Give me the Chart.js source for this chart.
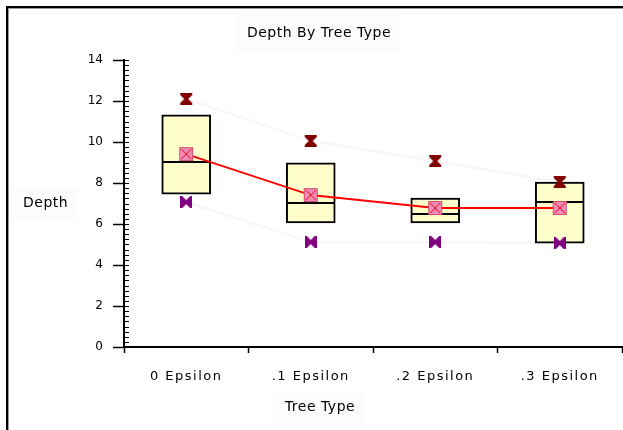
<!DOCTYPE html>
<html>
<head>
<meta charset="utf-8">
<script src="https://cdn.jsdelivr.net/npm/chart.js@4"></script>
<style>
  body { margin: 0; background: #fff; overflow: hidden; }
  #wrap { position: relative; width: 623px; height: 430px; }
  #frame { position: absolute; left: 6px; top: 6px; right: -10px; bottom: -10px;
           border-top: 2px solid #000; border-left: 2px solid #000;
           box-shadow: inset 1px 1px 0 #999; pointer-events: none; }
</style>
</head>
<body>
<div id="wrap">
  <canvas id="box-chart" width="623" height="430"></canvas>
  <div id="frame"></div>
</div>
<script>
const categories = ['0 Epsilon', '.1 Epsilon', '.2 Epsilon', '.3 Epsilon'];
const q1 = [7.46, 6.05, 6.05, 5.07];
const q3 = [11.32, 8.98, 7.27, 8.05];
const medians = [9.02, 7.02, 6.49, 7.07];
const means = [9.41, 7.41, 6.78, 6.78];
const maxValues = [12.1, 10.05, 9.07, 8.05];
const minValues = [7.07, 5.12, 5.12, 5.07];

const FONT = '"DejaVu Sans", sans-serif';

function makeMarker(w, h, draw){
    const c = document.createElement('canvas');
    c.width = w; c.height = h;
    draw(c.getContext('2d'));
    return c;
}

function polygon(ctx, pts){
    ctx.beginPath();
    pts.forEach((p, i) => i ? ctx.lineTo(p[0], p[1]) : ctx.moveTo(p[0], p[1]));
    ctx.closePath();
    ctx.fill();
}

// hourglass for max values
const maxMarker = makeMarker(14, 12, ctx => {
    ctx.fillStyle = '#800000';
    polygon(ctx, [[1,0],[13,0],[13,2],[9,6],[13,10],[13,12],[1,12],[1,10],[5,6],[1,2]]);
});

// bowtie for min values
const minMarker = makeMarker(12, 12, ctx => {
    ctx.fillStyle = '#800080';
    polygon(ctx, [[0,0],[2,0],[6,4],[10,0],[12,0],[12,12],[10,12],[6,8],[2,12],[0,12]]);
});

// pink square with red cross for the mean
const meanMarker = makeMarker(16, 16, ctx => {
    ctx.fillStyle = '#f08cbc';
    ctx.fillRect(1, 1, 14, 14);
    ctx.strokeStyle = 'rgba(200,60,80,0.8)';
    ctx.lineWidth = 1;
    ctx.strokeRect(1.5, 1.5, 13, 13);
    ctx.strokeStyle = '#ff0000';
    ctx.beginPath();
    ctx.moveTo(3, 3); ctx.lineTo(13, 13);
    ctx.moveTo(13, 3); ctx.lineTo(3, 13);
    ctx.stroke();
});

const textPlugin = {
    id: 'texts',
    beforeDraw(chart){
        const ctx = chart.ctx;
        ctx.save();
        ctx.fillStyle = '#fcfcfc';
        ctx.fillRect(237, 15, 163, 37);
        ctx.fillRect(15, 188, 63, 30);
        ctx.fillRect(272, 392, 94, 32);
        ctx.restore();
        // category labels are drawn wide in the reference
        ctx.letterSpacing = '1.5px';
    },
    afterDatasetsDraw(chart){
        chart.ctx.letterSpacing = '0px';
    },
    afterDraw(chart){
        const ctx = chart.ctx;
        const y = chart.scales.y;
        ctx.save();
        ctx.fillStyle = '#000';
        ctx.font = '14px ' + FONT;
        ctx.letterSpacing = '0.5px';
        ctx.textBaseline = 'middle';
        ctx.textAlign = 'center';
        ctx.fillText('Depth By Tree Type', 319, 33);
        ctx.fillText('Tree Type', 320, 407);
        ctx.textAlign = 'left';
        ctx.fillText('Depth', 23, 203);
        // minor ticks on the inner side of the value axis
        ctx.strokeStyle = '#000';
        ctx.lineWidth = 1.2;
        ctx.beginPath();
        for (let v = 0; v <= 14; v += 0.25) {
            const py = Math.round(y.getPixelForValue(v)) + 0.5;
            ctx.moveTo(y.right, py);
            ctx.lineTo(y.right + 5, py);
        }
        ctx.stroke();
        ctx.restore();
    }
};

new Chart(document.querySelector('#box-chart').getContext('2d'), {
    type: 'bar',
    data: {
        labels: categories,
        datasets: [
            {
                type: 'bar',
                data: q1.map((v, i) => [v, q3[i]]),
                backgroundColor: '#ffffcc',
                borderColor: '#000',
                borderWidth: 2,
                borderSkipped: false,
                barThickness: 49,
                order: 10
            },
            {
                type: 'line',
                data: maxValues,
                borderColor: 'rgba(0,0,0,0.03)',
                borderWidth: 3,
                pointRadius: 0,
                order: 11
            },
            {
                type: 'line',
                data: minValues,
                borderColor: 'rgba(0,0,0,0.03)',
                borderWidth: 3,
                pointRadius: 0,
                order: 11
            },
            {
                type: 'line',
                data: medians,
                showLine: false,
                pointStyle: 'line',
                pointRadius: 24,
                pointBorderWidth: 2,
                pointBorderColor: '#000',
                order: 5
            },
            {
                type: 'line',
                data: means,
                borderColor: '#ff0000',
                borderWidth: 2,
                pointRadius: 0,
                order: 4
            },
            {
                type: 'line',
                data: means,
                showLine: false,
                pointStyle: meanMarker,
                order: 3
            },
            {
                type: 'line',
                data: maxValues,
                showLine: false,
                pointStyle: maxMarker,
                order: 2
            },
            {
                type: 'line',
                data: minValues,
                showLine: false,
                pointStyle: minMarker,
                order: 2
            }
        ]
    },
    options: {
        responsive: false,
        animation: false,
        layout: { autoPadding: false, padding: { top: 60, right: 1, left: 0, bottom: 0 } },
        plugins: {
            legend: { display: false },
            tooltip: { enabled: false }
        },
        scales: {
            x: {
                offset: true,
                grid: { offset: true, drawOnChartArea: false, tickLength: 6, color: '#000', tickWidth: 1.5 },
                border: { color: '#000', width: 2 },
                ticks: { color: '#000', font: { family: FONT, size: 13 }, padding: 16, maxRotation: 0 },
                afterFit: scale => {
                    scale.height = 83;
                    scale.paddingLeft = 0;
                    scale.paddingRight = 0;
                }
            },
            y: {
                min: 0,
                max: 14,
                ticks: { stepSize: 2, color: '#000', font: { family: FONT, size: 12 }, padding: 10, z: 1 },
                grid: { drawOnChartArea: false, tickLength: 11, color: '#000', tickWidth: 1.5 },
                border: { color: '#000', width: 2 },
                afterFit: scale => {
                    scale.width = 124;
                    scale.paddingTop = 0;
                    scale.paddingBottom = 0;
                }
            }
        }
    },
    plugins: [textPlugin]
});
</script>
</body>
</html>
